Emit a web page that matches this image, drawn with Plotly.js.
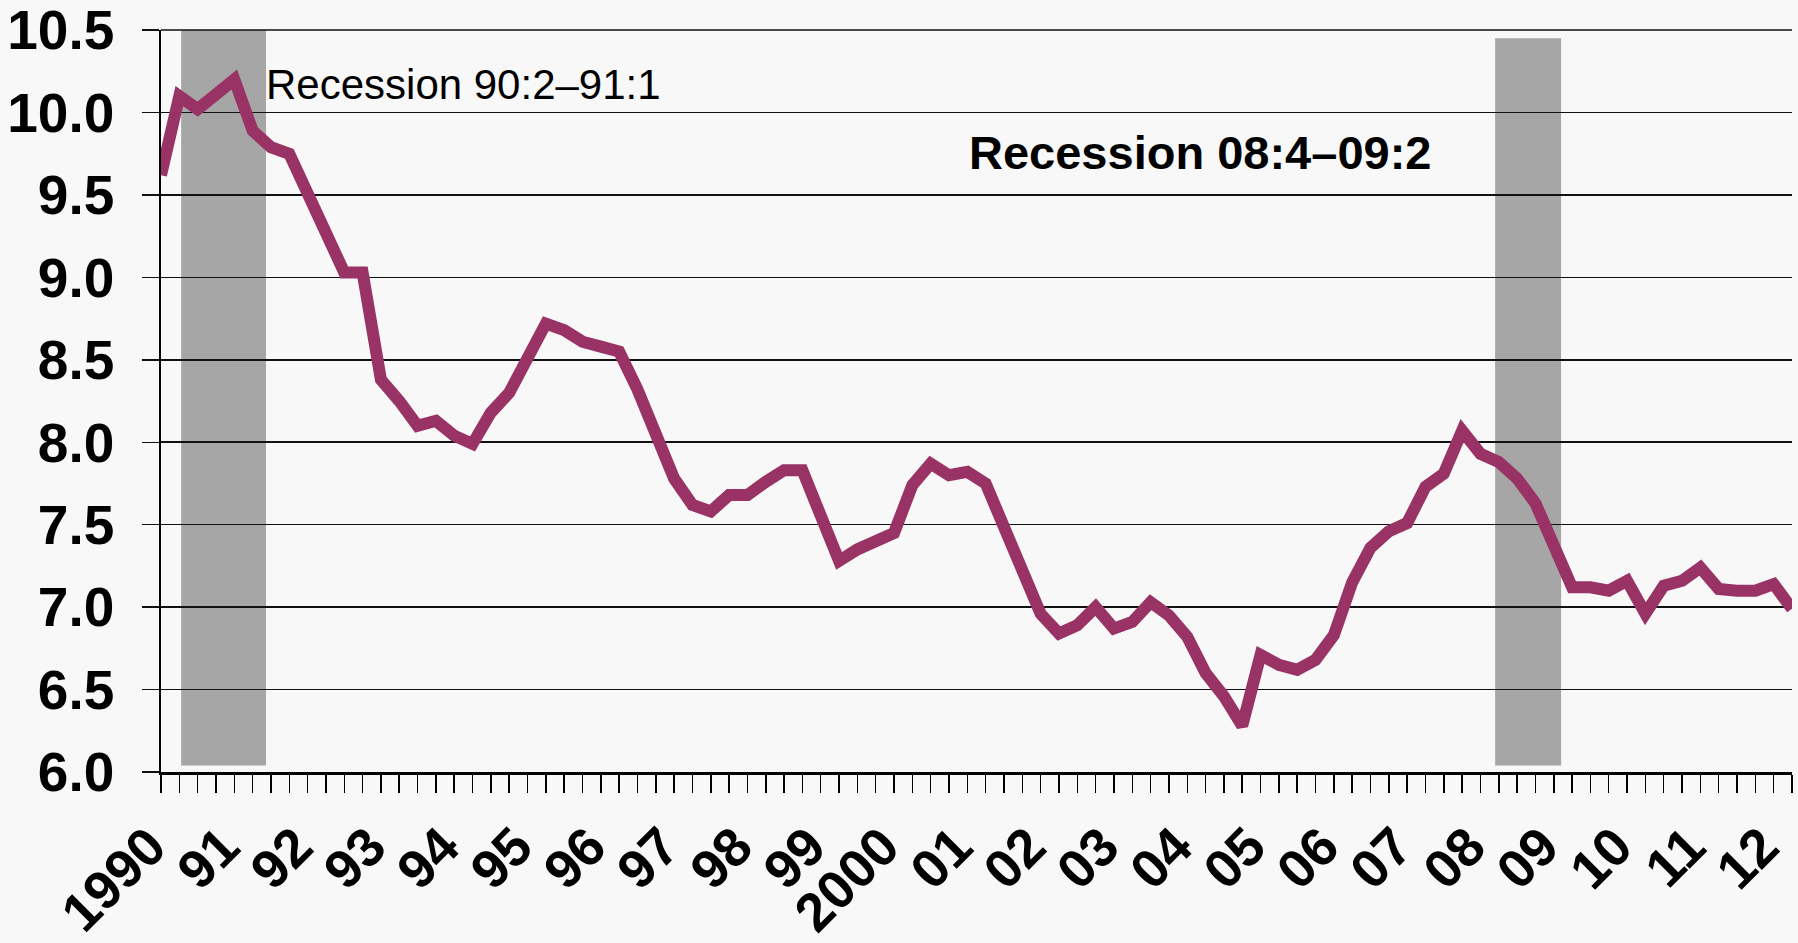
<!DOCTYPE html>
<html>
<head>
<meta charset="utf-8">
<script src="https://cdn.plot.ly/plotly-3.0.1.min.js"></script>
<style>
  html, body { margin: 0; padding: 0; background: #f8f8f8; }
  #chart { width: 1798px; height: 943px; }
</style>
</head>
<body>
<div id="chart"></div>
<script>
// Quarterly observations, 1990:1 through 2012:2
const quarters = [];
for (let y = 1990; y <= 2012; y++) {
  for (let q = 1; q <= 4; q++) {
    if (y === 2012 && q > 2) break;
    quarters.push(y + ":" + q);
  }
}

const values = [
  9.62, 10.10, 10.02, 10.12, 10.20, 9.89, 9.79, 9.75,
  9.50, 9.24, 9.03, 9.03, 8.38, 8.25, 8.10, 8.13,
  8.04, 7.99, 8.18, 8.30, 8.53, 8.72, 8.68, 8.61,
  8.58, 8.55, 8.32, 8.06, 7.78, 7.62, 7.58, 7.68,
  7.68, 7.76, 7.83, 7.83, 7.57, 7.28, 7.35, 7.40,
  7.45, 7.74, 7.87, 7.80, 7.82, 7.75, 7.49, 7.21,
  6.96, 6.84, 6.89, 7.00, 6.87, 6.91, 7.03, 6.95,
  6.82, 6.60, 6.46, 6.28, 6.71, 6.65, 6.62, 6.68,
  6.83, 7.15, 7.36, 7.46, 7.51, 7.73, 7.81, 8.07,
  7.93, 7.88, 7.78, 7.63, 7.36, 7.12, 7.12, 7.10,
  7.16, 6.96, 7.13, 7.16, 7.24, 7.11, 7.10, 7.10,
  7.14, 6.99
];

const yearLabels = ["1990","91","92","93","94","95","96","97","98","99","2000",
                    "01","02","03","04","05","06","07","08","09","10","11","12"];

const yTicks = [6.0, 6.5, 7.0, 7.5, 8.0, 8.5, 9.0, 9.5, 10.0, 10.5];

const recessionLabels = ["Recession 90:2\u201391:1", "Recession 08:4\u201309:2"];

const idx = quarters.map((_, i) => i);
const ticktext = idx.map(i => (i % 4 === 0 ? yearLabels[i / 4] : ""));

const FONT = "Liberation Sans, Arial, Helvetica, sans-serif";

const trace = {
  x: idx,
  y: values,
  type: "scatter",
  mode: "lines",
  line: { color: "#993366", width: 12, shape: "linear" },
  hoverinfo: "skip"
};

const layout = {
  width: 1798,
  height: 943,
  margin: { l: 161, r: 6, t: 30, b: 171 },
  paper_bgcolor: "#f8f8f8",
  plot_bgcolor: "#f8f8f8",
  showlegend: false,
  xaxis: {
    range: [0, 89],
    tickmode: "array",
    tickvals: idx,
    ticktext: ticktext,
    tickangle: -45,
    ticks: "outside",
    ticklen: 18,
    tickwidth: 1.5,
    tickcolor: "#000",
    ticklabelshift: -11,
    ticklabeloverflow: "allow",
    showline: true,
    linecolor: "#000",
    linewidth: 3,
    showgrid: false,
    zeroline: false,
    automargin: false,
    tickfont: { family: FONT, size: 54, color: "#000", weight: "bold" }
  },
  yaxis: {
    range: [6, 10.5005],
    tickmode: "array",
    tickvals: yTicks,
    ticktext: yTicks.map(v => v.toFixed(1)),
    ticks: "outside",
    ticklen: 17,
    tickwidth: 1.5,
    tickcolor: "#111",
    ticklabelstandoff: 17,
    ticklabeloverflow: "allow",
    showline: true,
    linecolor: "#000",
    linewidth: 1.7,
    showgrid: true,
    gridcolor: "#111",
    gridwidth: 1.6,
    zeroline: false,
    automargin: false,
    tickfont: { family: FONT, size: 55, color: "#000", weight: "bold" }
  },
  shapes: [
    { type: "rect", xref: "x", yref: "y", x0: 1.1, x1: 5.73, y0: 6.04, y1: 10.5,
      fillcolor: "#a6a6a6", line: { width: 0 }, layer: "below" },
    { type: "rect", xref: "x", yref: "y", x0: 72.8, x1: 76.4, y0: 6.04, y1: 10.45,
      fillcolor: "#a6a6a6", line: { width: 0 }, layer: "below" },
    { type: "line", xref: "paper", yref: "paper", x0: 0, x1: 1, y0: 1, y1: 1,
      line: { color: "#111", width: 1.6 }, layer: "above" }
  ],
  annotations: [
    { text: recessionLabels[0], xref: "x", yref: "y", x: 5.62, y: 10.17,
      xanchor: "left", yanchor: "middle", showarrow: false,
      font: { family: FONT, size: 42, color: "#000" } },
    { text: recessionLabels[1], xref: "x", yref: "y", x: 44.0, y: 9.76,
      xanchor: "left", yanchor: "middle", showarrow: false,
      font: { family: FONT, size: 47, color: "#000", weight: "bold" } }
  ]
};

Plotly.newPlot("chart", [trace], layout, { displayModeBar: false, staticPlot: true });
</script>
</body>
</html>
